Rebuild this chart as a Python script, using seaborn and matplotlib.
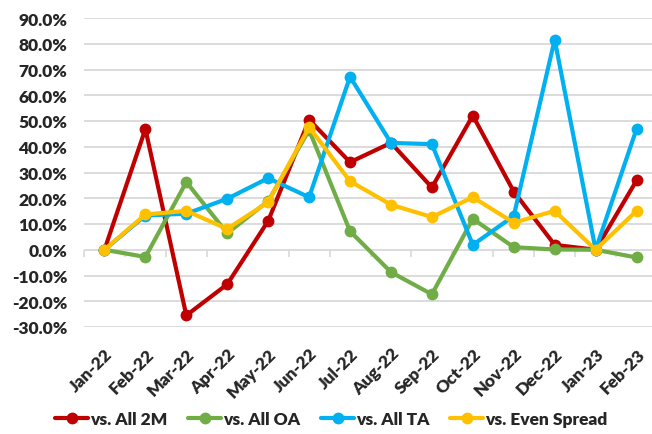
import matplotlib
matplotlib.use("Agg")
import matplotlib.pyplot as plt
import seaborn as sns
import pandas as pd
from matplotlib.ticker import FuncFormatter, FixedLocator

months = ["Jan-22", "Feb-22", "Mar-22", "Apr-22", "May-22", "Jun-22", "Jul-22",
          "Aug-22", "Sep-22", "Oct-22", "Nov-22", "Dec-22", "Jan-23", "Feb-23"]
all_2m = [0.0, 46.9, -25.5, -13.4, 11.2, 50.5, 34.0, 41.5, 24.2, 52.1, 22.6, 1.9, 0.0, 26.9]
all_oa = [0.0, -2.8, 26.3, 6.4, 18.9, 46.5, 7.2, -8.7, -17.3, 12.0, 1.0, 0.1, 0.0, -3.0]
all_ta = [0.0, 13.3, 14.0, 19.8, 27.8, 20.4, 67.2, 41.5, 41.0, 1.9, 13.1, 81.6, 0.0, 46.9]
even_spread = [0.0, 13.7, 15.1, 8.1, 18.5, 47.6, 26.6, 17.5, 12.7, 20.4, 10.5, 15.1, 0.0, 15.1]
series_names = ["vs. All 2M", "vs. All OA", "vs. All TA", "vs. Even Spread"]
colors = ["#C00000", "#70AD47", "#00B0F0", "#FFC000"]

df = pd.DataFrame({"Month": months * 4,
                   "Value": all_2m + all_oa + all_ta + even_spread,
                   "Series": sum([[n] * len(months) for n in series_names], [])})

sns.set_style("white")
plt.rcParams["font.family"] = ["Lato", "DejaVu Sans"]
W = "heavy"
plt.rcParams["font.weight"] = W

fig = plt.figure(figsize=(6.52, 4.35), dpi=100)
ax = fig.add_axes([84 / 652, 1 - 328 / 435, 573 / 652, (328 - 19) / 435])

sns.lineplot(data=df, x="Month", y="Value", hue="Series", palette=colors,
             marker="o", markersize=8.5, markeredgewidth=0, linewidth=3.0,
             sort=False, ax=ax, legend=True)

ax.set_xlim(-0.5, len(months) - 0.5)
ax.set_ylim(-30, 90)
ax.yaxis.set_major_locator(FixedLocator(list(range(-30, 91, 10))))
ax.yaxis.set_major_formatter(FuncFormatter(lambda v, p: f"{v:.1f}%"))
ax.grid(axis="y", color="#D9D9D9", linewidth=1.3)
ax.grid(axis="x", visible=False)
ax.set_axisbelow(True)
for s in ax.spines.values():
    s.set_visible(False)
ax.set_xlabel("")
ax.set_ylabel("")
ax.tick_params(axis="y", length=0, pad=12, labelsize=12.5)
ax.tick_params(axis="x", length=0, pad=13, labelsize=12.5)
ax.set_xticks(range(len(months)))
ax.set_xticklabels(months, rotation=45, ha="right", rotation_mode="anchor", fontweight=W)
for lab in ax.get_yticklabels():
    lab.set_fontweight(W)

# tick marks on the zero line at category boundaries
sec = ax.secondary_xaxis(0.25)
sec.set_xticks([i + 0.5 for i in range(-1, len(months))])
sec.set_xticklabels([])
sec.tick_params(axis="x", direction="out", length=5, width=1.2, color="#D9D9D9")
sec.spines["bottom"].set_visible(False)

handles, labels = ax.get_legend_handles_labels()
ax.legend_.remove()
fig.legend(handles, labels, loc="center", bbox_to_anchor=(0.508, 1 - 420 / 435),
           ncol=4, frameon=False, prop={"weight": W, "size": 12.5},
           handlelength=1.9, handletextpad=0.1, columnspacing=1.2)

fig.savefig("out.png", dpi=100)
